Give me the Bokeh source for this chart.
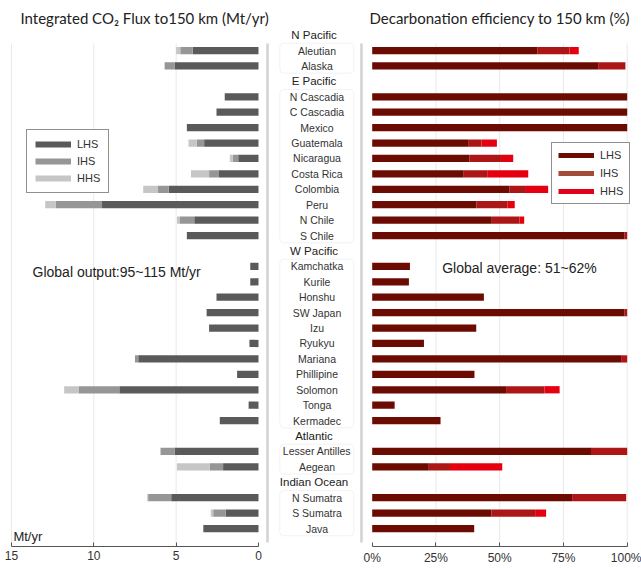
from bokeh.plotting import figure
from bokeh.layouts import row
from bokeh.models import (ColumnDataSource, Range1d, FixedTicker, Label, Legend,
                          LegendItem, BoxAnnotation, PrintfTickFormatter)
from bokeh.core.properties import value
from bokeh.embed import file_html
from bokeh.resources import INLINE

# ---- data -------------------------------------------------------------
regions = ["N Pacific", "E Pacific", "W Pacific", "Atlantic", "Indian Ocean"]
region_zones = [
    ["Aleutian", "Alaska"],
    ["N Cascadia", "C Cascadia", "Mexico", "Guatemala", "Nicaragua",
     "Costa Rica", "Colombia", "Peru", "N Chile", "S Chile"],
    ["Kamchatka", "Kurile", "Honshu", "SW Japan", "Izu", "Ryukyu", "Mariana",
     "Phillipine", "Solomon", "Tonga", "Kermadec"],
    ["Lesser Antilles", "Aegean"],
    ["N Sumatra", "S Sumatra", "Java"],
]

# integrated CO2 flux to 150 km (Mt/yr), per slab hydration state
flux_lhs = [4.0, 5.1,
            2.05, 2.55, 4.35, 3.3, 1.23, 2.4, 5.45, 9.5, 3.9, 4.35,
            0.5, 0.5, 2.55, 3.15, 3.0, 0.55, 7.3, 1.3, 8.45, 0.6, 2.35,
            5.1, 2.15,
            5.3, 2.0, 3.35]
flux_ihs = [0.75, 0.6,
            0, 0, 0, 0.45, 0.33, 0.6, 0.65, 2.8, 0.9, 0,
            0, 0, 0, 0, 0, 0, 0.2, 0, 2.45, 0, 0,
            0.85, 0.8,
            1.4, 0.75, 0]
flux_hhs = [0.25, 0,
            0, 0, 0, 0.5, 0.18, 1.1, 0.9, 0.65, 0.15, 0,
            0, 0, 0, 0, 0, 0, 0, 0, 0.9, 0, 0,
            0, 2.0,
            0.06, 0.15, 0]

# decarbonation efficiency to 150 km (%)
eff_lhs = [64.7, 88.6,
           100, 100, 100, 37.6, 38.2, 35.9, 53.9, 40.9, 46.9, 99.0,
           14.8, 14.4, 43.8, 99.0, 40.8, 20.3, 97.6, 40.1, 52.5, 8.8, 26.8,
           85.8, 22.2,
           78.4, 46.7, 40.0]
eff_ihs = [12.7, 10.7,
           0, 0, 0, 5.3, 12.3, 9.2, 6.4, 12.2, 10.9, 1.0,
           0, 0, 0, 1.0, 0, 0, 2.4, 0, 15.1, 0, 0,
           14.2, 8.3,
           21.2, 17.2, 0]
eff_hhs = [3.6, 0,
           0, 0, 0, 6.0, 4.8, 16.1, 8.7, 2.8, 1.8, 0,
           0, 0, 0, 0, 0, 0, 0, 0, 5.9, 0, 0,
           0, 20.5,
           0, 4.3, 0]

states = ["LHS", "IHS", "HHS"]
flux_ticks = [0, 5, 10, 15]
eff_ticks = [0, 25, 50, 75, 100]

flux_colors = ["#5a5a5a", "#969696", "#c6c6c6"]
eff_colors = ["#6b0b02", "#ad1616", "#e6000f"]
eff_legend_colors = ["#6b0b02", "#a34b39", "#e3001b"]

# ---- row layout: region header rows followed by their zones ------------
zone_names, zone_rows, header_rows, box_spans = [], [], [], []
r = 0
for reg, zones in zip(regions, region_zones):
    header_rows.append(r)
    r += 1
    first = r
    for z in zones:
        zone_names.append(z)
        zone_rows.append(r)
        r += 1
    box_spans.append((first, r - 1))

FRAME_H = 546
Y_TOP, Y_BOT = -2.244, 33.165
GRID_TOP = 0.545
DIV_BOT = 32.9
BAR_H = 0.47
FONT = "Liberation Sans"
TITLE_FONT = "Lato"
NAN = float("nan")


def make_panel(x_range, width, with_axis):
    p = figure(frame_width=width, frame_height=FRAME_H,
               x_range=x_range, y_range=Range1d(Y_BOT, Y_TOP),
               x_axis_location="below" if with_axis else None,
               y_axis_location=None, output_backend="svg",
               toolbar_location=None, min_border=0,
               outline_line_color=None, background_fill_color="white",
               border_fill_color="white")
    p.grid.grid_line_color = None
    if with_axis:
        ax = p.xaxis[0]
        ax.major_tick_in = 4
        ax.major_tick_out = 0
        ax.minor_tick_line_color = None
        ax.axis_line_color = "#555555"
        ax.major_tick_line_color = "#555555"
        ax.major_label_text_font = FONT
        ax.major_label_text_font_size = "12px"
        ax.major_label_text_color = "#333333"
        ax.major_label_standoff = 4
    return p


def style_legend(items, loc, padding, spacing):
    return Legend(items=items, location=loc, orientation="vertical",
                  glyph_width=36, glyph_height=12, label_height=12,
                  label_text_font=FONT, label_text_font_size="11px",
                  label_text_color="#333333", label_standoff=6,
                  padding=padding, spacing=spacing, margin=0,
                  border_line_color="#222222", border_line_width=1.5,
                  background_fill_color="white", background_fill_alpha=1)


# ---- left panel: CO2 flux (reversed axis) ------------------------------
p_left = make_panel(Range1d(15.665, -0.7286), 270, True)
p_left.xaxis.ticker = FixedTicker(ticks=flux_ticks)
p_left.xaxis.bounds = (min(flux_ticks), max(flux_ticks))

grid_flux = [t for t in flux_ticks if t > 0]
p_left.segment(x0=grid_flux, y0=GRID_TOP, x1=grid_flux, y1=Y_BOT,
               line_color="#e9e9e9", line_width=1)
p_left.segment(x0=[-0.5465], y0=GRID_TOP, x1=[-0.5465], y1=DIV_BOT,
               line_color="#d2d2d2", line_width=2.5)

src_flux = ColumnDataSource(dict(y=zone_rows, LHS=flux_lhs, IHS=flux_ihs, HHS=flux_hhs))
p_left.hbar_stack(states, y="y", height=BAR_H, color=flux_colors,
                  line_color=None, source=src_flux)

# legend swatches (a single NaN point so nothing shows in the plot area)
left_sw = [p_left.line(x=[NAN], y=[NAN], line_width=6, line_color=c) for c in flux_colors]
p_left.add_layout(style_legend(
    [LegendItem(label=s, renderers=[rr]) for s, rr in zip(states, left_sw)],
    (26, 353), 8, 5))

p_left.add_layout(Label(x=14.45, y=-1.077, text="Integrated CO\u2082  Flux to150 km (Mt/yr)",
                        text_font=TITLE_FONT, text_font_size="15px", text_color="#222222",
                        text_baseline="middle", text_align="left"))
p_left.add_layout(Label(x=13.72, y=15.38, text="Global output:95~115 Mt/yr",
                        text_font=FONT, text_font_size="14px", text_color="#222222",
                        text_baseline="middle", text_align="left"))
p_left.add_layout(Label(x=14.88, y=32.52, text="Mt/yr",
                        text_font=FONT, text_font_size="13px", text_color="#222222",
                        text_baseline="middle", text_align="left"))

# ---- middle column: zone names grouped by region -----------------------
p_mid = make_panel(Range1d(270, 358), 88, False)
p_mid.min_border_bottom = 22
for (a, b) in box_spans:
    p_mid.add_layout(BoxAnnotation(left=279.3, right=353.3, top=a - 0.47, bottom=b + 0.47,
                                   fill_alpha=0, line_color="#d8d8d8", line_width=1,
                                   border_radius=4))
src_names = ColumnDataSource(dict(y=zone_rows, name=zone_names))
p_mid.text(x=316.5, y="y", text="name", source=src_names, text_align="center",
           text_baseline="middle", text_font=value(FONT), text_font_size="10.5px",
           text_color="#333333")
src_heads = ColumnDataSource(dict(y=header_rows, name=regions))
p_mid.text(x=313.5, y="y", text="name", source=src_heads, text_align="center",
           text_baseline="middle", text_font=value(FONT), text_font_size="11.5px",
           text_color="#222222")

# ---- right panel: decarbonation efficiency -----------------------------
p_right = make_panel(Range1d(-5.373, 105.61), 283, True)
p_right.xaxis.ticker = FixedTicker(ticks=eff_ticks)
p_right.xaxis.bounds = (min(eff_ticks), max(eff_ticks))
p_right.xaxis.formatter = PrintfTickFormatter(format="%d%%")

grid_eff = [t for t in eff_ticks if t > 0]
p_right.segment(x0=grid_eff, y0=GRID_TOP, x1=grid_eff, y1=Y_BOT,
                line_color="#e9e9e9", line_width=1)
p_right.segment(x0=[-4.2], y0=GRID_TOP, x1=[-4.2], y1=DIV_BOT,
                line_color="#d2d2d2", line_width=2.5)

src_eff = ColumnDataSource(dict(y=zone_rows, LHS=eff_lhs, IHS=eff_ihs, HHS=eff_hhs))
p_right.hbar_stack(states, y="y", height=BAR_H, color=eff_colors,
                   line_color=None, source=src_eff)

right_sw = [p_right.line(x=[NAN], y=[NAN], line_width=5, line_color=c) for c in eff_legend_colors]
p_right.add_layout(style_legend(
    [LegendItem(label=s, renderers=[rr]) for s, rr in zip(states, right_sw)],
    (193, 342), 6, 6))

p_right.add_layout(Label(x=-1.06, y=-1.077, text="Decarbonation efficiency to 150 km (%)",
                         text_font=TITLE_FONT, text_font_size="15px", text_color="#222222",
                         text_baseline="middle", text_align="left"))
p_right.add_layout(Label(x=27.45, y=15.09, text="Global average: 51~62%",
                         text_font=FONT, text_font_size="14px", text_color="#222222",
                         text_baseline="middle", text_align="left"))

layout = row(p_left, p_mid, p_right, spacing=0)
open("out.html", "w").write(file_html(layout, INLINE))
